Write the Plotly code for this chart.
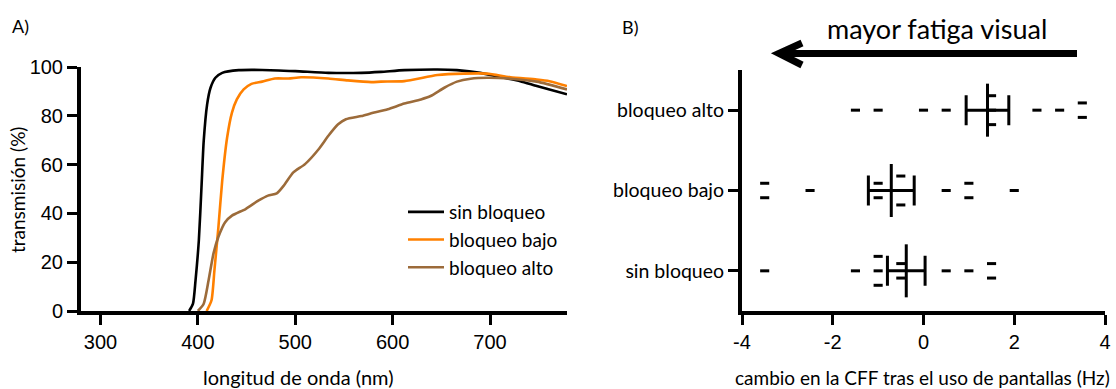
import plotly.graph_objects as go
from collections import Counter

W, H = 1116, 389

# ---------- Panel A data: transmission spectra ----------
wl_sin = [391, 395, 397.6, 401, 403.7, 406, 409.5, 413, 418, 425, 442, 466, 500, 534,
          568, 588, 612, 646, 666, 690, 714, 731, 748, 761, 779]
t_sin = [0, 3, 12.6, 29, 50.7, 69.7, 84.7, 91.5, 95.6, 97.6, 98.7, 98.8, 98.3, 97.6,
         97.6, 98.0, 98.7, 99.0, 98.7, 97.6, 95.6, 94.2, 92.2, 90.8, 88.8]

wl_bajo = [409, 414, 417, 421, 425, 430, 435, 440, 447, 455, 466, 479, 493, 506, 534,
           554, 578, 588, 612, 646, 673, 697, 721, 748, 761, 779]
t_bajo = [0, 4.4, 16.7, 34, 53.4, 71, 81.3, 86.7, 90.8, 93.1, 94, 95.3, 95.3, 95.8, 95.3,
          94.5, 93.8, 94, 94.2, 96.7, 97.3, 97.3, 95.8, 94.9, 94.2, 92.2]

wl_alto = [400, 406, 411, 416, 421, 428, 435, 449, 462, 472, 481, 488, 498, 510, 524, 534,
           544, 552, 568, 578, 595, 612, 629, 639, 653, 666, 680, 697, 721, 748, 779]
t_alto = [0, 3, 12.6, 23.5, 30.3, 36.4, 39.1, 41.8, 45.2, 47.3, 48.2, 51.3, 56.8, 60.2, 66.3,
          71.8, 76.5, 78.6, 79.9, 81, 82.7, 85, 86.7, 88.1, 91.5, 94, 95.2, 95.6, 95.2, 94, 90.8]

series_names = ["sin bloqueo", "bloqueo bajo", "bloqueo alto"]
series_colors = ["#000000", "#FF8000", "#9C6B3A"]

x_ticks_a = [300, 400, 500, 600, 700]
y_ticks_a = [0, 20, 40, 60, 80, 100]

# ---------- Panel B data: change in CFF (Hz) ----------
categories = ["sin bloqueo", "bloqueo bajo", "bloqueo alto"]
cff_sin = [-3.5, -1.5, -1.0, -1.0, -1.0, -0.5, -0.5, 0.5, 1.0, 1.5, 1.5]
cff_bajo = [-3.5, -3.5, -2.5, -1.0, -1.0, -0.5, -0.5, -0.5, 0.5, 1.0, 1.0, 2.0]
cff_alto = [-1.5, -1.0, 0.0, 0.5, 1.5, 1.5, 1.5, 2.5, 3.0, 3.5, 3.5]
cff_means = [-0.38, -0.71, 1.41]
cff_sem = [0.415, 0.505, 0.47]
x_ticks_b = [-4, -2, 0, 2, 4]
x_ticktext_b = ["-4", "-2", "0", "2", "4"]

CAL = "Lato, Calibri, sans-serif"
ARI = "Liberation Sans, Arial, sans-serif"


def px(x):
    return x / W


def py(y):
    return 1 - y / H


fig = go.Figure()

for wl, t, name, col in zip([wl_sin, wl_bajo, wl_alto], [t_sin, t_bajo, t_alto],
                            series_names, series_colors):
    fig.add_trace(go.Scatter(x=wl, y=t, mode="lines", name=name,
                             line=dict(color=col, width=2.6, shape="spline", smoothing=0.6),
                             legendgroup=name, xaxis="x", yaxis="y"))

# Panel B scatter of individual values (stacked when tied)
STEP = 0.18
for yi, vals in enumerate([cff_sin, cff_bajo, cff_alto]):
    counts = Counter(vals)
    seen = Counter()
    xs, ys = [], []
    for v in vals:
        k = counts[v]
        i = seen[v]
        seen[v] += 1
        xs.append(v)
        ys.append(yi + (i - (k - 1) / 2) * STEP)
    fig.add_trace(go.Scatter(x=xs, y=ys, mode="markers", showlegend=False,
                             marker=dict(symbol="line-ew", size=6.5,
                                         line=dict(color="black", width=3)),
                             xaxis="x2", yaxis="y2"))

# Mean (vertical line) and SEM (horizontal bars with caps)
fig.add_trace(go.Scatter(x=cff_means, y=[0, 1, 2], mode="markers", showlegend=False,
                         marker=dict(size=1, color="rgba(0,0,0,0)"),
                         error_x=dict(type="data", array=cff_sem, color="black",
                                      thickness=3, width=15),
                         error_y=dict(type="constant", value=0.33, color="black",
                                      thickness=3, width=0),
                         xaxis="x2", yaxis="y2"))

ybot, ytopA, ytopB = py(311), py(67), py(70)

axis_common = dict(showgrid=False, zeroline=False, showline=True, linecolor="black",
                   linewidth=4, ticks="outside", ticklen=10, tickwidth=3, automargin=False,
                   tickcolor="black", tickfont=dict(family=ARI, size=20, color="black"))

fig.update_layout(
    width=W, height=H,
    margin=dict(l=0, r=0, t=0, b=0, autoexpand=False),
    paper_bgcolor="white", plot_bgcolor="white",
    xaxis=dict(domain=[px(81), px(567)], range=[280, 779], tickvals=x_ticks_a,
               anchor="y", **axis_common),
    yaxis=dict(domain=[ybot, ytopA], range=[0, 100], tickvals=y_ticks_a,
               anchor="x", **axis_common),
    xaxis2=dict(domain=[px(742), px(1105)], range=[-4, 4], tickvals=x_ticks_b,
                ticktext=x_ticktext_b, anchor="y2", **axis_common),
    yaxis2=dict(domain=[ybot, ytopB], range=[-0.5, 2.5], tickvals=[0, 1, 2],
                ticktext=categories, anchor="x2",
                **{**axis_common, "tickfont": dict(family=CAL, size=19.5, color="black")}),
    legend=dict(x=px(403), y=py(193), xanchor="left", yanchor="top",
                font=dict(family=CAL, size=19, color="black"), itemwidth=36,
                bgcolor="rgba(0,0,0,0)", traceorder="grouped", tracegroupgap=0),
    showlegend=True,
)


def label(x, y, text, size, angle=0):
    fig.add_annotation(x=px(x), y=py(y), xref="paper", yref="paper", text=text,
                       xanchor="center", yanchor="middle", showarrow=False, textangle=angle,
                       font=dict(family=CAL, size=size, color="black"))


label(20, 26, "A)", 18)
label(630, 27, "B)", 18)
label(937, 28, "mayor fatiga visual", 27)
label(298, 377, "longitud de onda (nm)", 20)
label(922, 377, "cambio en la CFF tras el uso de pantallas (Hz)", 19)
label(18, 190, "transmisión (%)", 19, angle=-90)

# Arrow pointing left
fig.add_shape(type="line", xref="paper", yref="paper",
              x0=px(1077), y0=py(53.5), x1=px(781), y1=py(53.5),
              line=dict(color="black", width=7))
fig.add_shape(type="path", xref="paper", yref="paper",
              path=f"M {px(802)},{py(43)} L {px(779)},{py(53.5)} L {px(802)},{py(65)}",
              line=dict(color="black", width=7))

fig.write_html("out.html")
